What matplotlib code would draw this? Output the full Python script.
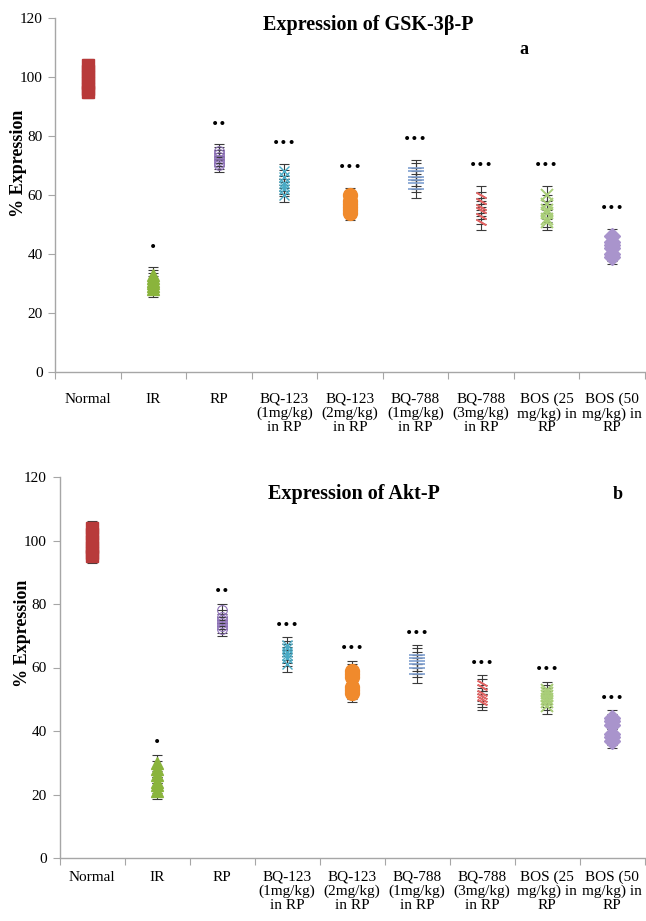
import matplotlib
matplotlib.use("Agg")
import matplotlib.pyplot as plt
from matplotlib.ticker import FixedLocator

# ---------------- data ----------------
categories = ["Normal", "IR", "RP",
              "BQ-123\n(1mg/kg)\nin RP", "BQ-123\n(2mg/kg)\nin RP",
              "BQ-788\n(1mg/kg)\nin RP", "BQ-788\n(3mg/kg)\nin RP",
              "BOS (25\nmg/kg) in\nRP", "BOS (50\nmg/kg) in\nRP"]

gsk_values = [[95, 96, 98, 100, 102, 104],
              [28, 29, 30, 31, 32, 33],
              [70, 71, 72, 73, 74, 75],
              [60, 62, 63, 64, 66, 68],
              [54, 55, 56, 57, 58, 60],
              [62, 64, 65, 66, 68, 69],
              [51, 53, 55, 56, 58, 60],
              [51, 52, 54, 55, 57, 60],
              [39, 40, 42, 43, 44, 46]]
gsk_sd = [2.2, 2.5, 2.2, 2.5, 2.5, 3, 3, 3, 2.5]

akt_values = [[95, 96, 98, 100, 102, 104],
              [21, 23, 24, 26, 28, 30],
              [72, 73, 74, 75, 76, 78],
              [61, 63, 64, 65, 66, 67],
              [52, 53, 54, 57, 58, 59],
              [58, 60, 61, 62, 63, 64],
              [49, 50, 51, 52, 54, 55],
              [48, 49, 50, 51, 52, 53],
              [37, 38, 39, 42, 43, 44]]
akt_sd = [2.0, 2.5, 2.0, 2.5, 3, 3, 2.5, 2.5, 2.5]

stars = ["", "*", "**", "***", "***", "***", "***", "***", "***"]

yticks = [0, 20, 40, 60, 80, 100, 120]

# ---------------- styles ----------------
marker_styles = [
    dict(marker="s", mfc="#B83A3A", mec="#B83A3A", ms=8.5),
    dict(marker="^", mfc="#8AB43C", mec="#8AB43C", ms=9),
    dict(marker="o", mfc="none", mec="#8E72B8", ms=7, mew=0.8),
    dict(marker="x", mfc="none", mec="#4BACC6", ms=7, mew=1.0),
    dict(marker="o", mfc="#F08A2C", mec="#F08A2C", ms=10),
    dict(marker="_", mfc="#7F9FD0", mec="#7F9FD0", ms=11, mew=1.2),
    dict(marker=(2, 2, 60), mfc="#E06666", mec="#E06666", ms=8, mew=1.2),
    dict(marker="x", mfc="none", mec="#A9CE78", ms=8, mew=1.4),
    dict(marker="D", mfc="#A994CC", mec="#A994CC", ms=8),
]

serif = ["Liberation Serif", "DejaVu Serif"]
plt.rcParams["font.family"] = serif

fig = plt.figure(figsize=(6.46, 9.21), dpi=100)
W, H = 646.0, 921.0


def panel(rect, values, sds, title, letter, title_pos, letter_pos, star_off, xpad):
    ax = fig.add_axes(rect)
    x = list(range(len(categories)))
    for i, (vals, sd) in enumerate(zip(values, sds)):
        ax.errorbar([i] * len(vals), vals, yerr=sd, fmt="none",
                    ecolor="#3A3A3A", elinewidth=0.8, capsize=3.5,
                    capthick=0.8, zorder=2)
        ax.plot([i] * len(vals), vals, ls="none", zorder=3,
                **marker_styles[i])
        if stars[i]:
            ax.text(i, max(vals) + sd + star_off, "\u2022" * len(stars[i]),
                    ha="center", va="center", fontsize=10,
                    family=["DejaVu Sans"], color="black")
    ax.set_xlim(-0.5, len(categories) - 0.5)
    ax.set_ylim(0, 120)
    ax.set_yticks(yticks)
    ax.set_xticks(x)
    ax.set_xticklabels(categories, fontsize=11, linespacing=1.08)
    ax.xaxis.set_minor_locator(FixedLocator([k - 0.5 for k in range(len(categories) + 1)]))
    ax.tick_params(axis="x", which="major", length=0, pad=xpad)
    ax.tick_params(axis="x", which="minor", length=5, color="#A6A6A6", width=0.8)
    ax.tick_params(axis="y", length=5, color="#A6A6A6", width=0.8,
                   labelsize=11, pad=4)
    for s in ("top", "right"):
        ax.spines[s].set_visible(False)
    for s in ("left", "bottom"):
        ax.spines[s].set_color("#A6A6A6")
        ax.spines[s].set_linewidth(1.0)
    ax.set_ylabel("% Expression", fontsize=13, fontweight="bold")
    ax.yaxis.set_label_coords(-0.048, 0.59)
    ax.text(title_pos[0], title_pos[1], title, transform=fig.transFigure,
            ha="center", va="center", fontsize=14.5, fontweight="bold")
    ax.text(letter_pos[0], letter_pos[1], letter, transform=fig.transFigure,
            ha="center", va="center", fontsize=13, fontweight="bold")
    return ax


panel([55 / W, 1 - 372 / H, 590 / W, 354 / H], gsk_values, gsk_sd,
      "Expression of GSK-3\u03b2-P", "a",
      (368 / W, 1 - 25 / H), (524 / W, 1 - 50 / H), 7, 15)
panel([59.5 / W, 1 - 858 / H, 585 / W, 381 / H], akt_values, akt_sd,
      "Expression of Akt-P", "b",
      (354 / W, 1 - 494 / H), (618 / W, 1 - 494 / H), 4, 9)

fig.savefig("out.png", dpi=100)
